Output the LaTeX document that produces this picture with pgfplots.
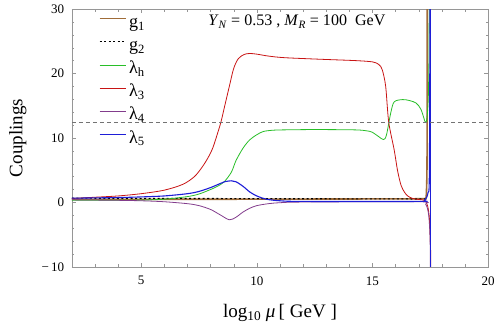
\documentclass[border=0pt]{standalone}
\usepackage{pgfplots}
\pgfplotsset{compat=1.18}
\usepackage{fontspec}
\setmainfont{Liberation Serif}

\definecolor{cgone}{RGB}{160,108,56}
\definecolor{clh}{RGB}{40,190,40}
\definecolor{cltre}{RGB}{200,20,20}
\definecolor{clfour}{RGB}{130,60,140}
\definecolor{clfive}{RGB}{30,30,215}
\definecolor{frame}{RGB}{150,150,150}

\begin{document}
\begin{tikzpicture}
\begin{axis}[
    name=main,
    scale only axis,
    width=415pt, height=257pt,
    xmin=2, xmax=20, ymin=-10, ymax=30,
    xtick={5,10,15,20}, ytick={-10,0,10,20,30},
    yticklabels={−\,10,0,10,20,30},
    minor xtick={2,3,...,20},
    minor ytick={-10,-8,...,30},
    tick align=inside,
    major tick length=4pt, minor tick length=2.5pt,
    every tick/.style={frame},
    axis line style={frame},
    tick label style={font=\fontsize{13}{15}\selectfont},
    /pgf/number format/assume math mode=true,
    yticklabel style={xshift=-4pt},
    xticklabel style={yshift=-6pt},
    xlabel={log\textsubscript{10} \textit{μ}\,[ GeV ]},
    ylabel={Couplings},
    xlabel style={font=\fontsize{19}{21}\selectfont, at={(axis description cs:0.5,-0.195)}, anchor=base, inner sep=10pt},
    ylabel style={font=\fontsize{19}{21}\selectfont, at={(axis description cs:-0.13,0.5)}, anchor=center, inner sep=9pt},
    legend style={draw=none, fill=none, at={(axis description cs:0.058,0.985)}, anchor=north west,
        font=\fontsize{18}{20}\selectfont, row sep=6.5pt,
        nodes={text height=12.5pt, text depth=4pt, inner ysep=0pt, inner xsep=3pt}},
    legend cell align=left,
    legend image code/.code={\draw[#1, line width=0.9pt] (0pt,4.5pt) -- (26pt,4.5pt);},
    clip=true,
]
% g1
\addplot[cgone, line width=1.6pt, smooth] coordinates {
(2,0.46) (6,0.48) (10,0.5) (14,0.53) (17,0.56) (17.28,0.62) (17.33,1.5) (17.36,8) (17.37,36)};
\addlegendentry{g\textsubscript{1}}
% g2
\addplot[black, line width=1.1pt, dash pattern=on 2pt off 2.5pt] coordinates {
(2,0.66) (6,0.62) (10,0.58) (14,0.55) (17.3,0.53)};
\addlegendentry{g\textsubscript{2}}
% lambda_h
\addplot[clh, line width=0.8pt, smooth] coordinates {
(2,0.32) (4,0.33) (5,0.36) (6,0.5) (7,0.9) (7.5,1.3) (8.0,2.0) (8.3,2.5) (8.59,3.2)
(8.9,4.7) (9.1,6.5) (9.4,8.4) (9.69,9.7) (10.0,10.5) (10.28,11.0) (10.7,11.2) (11.16,11.25)
(12.5,11.3) (14.25,11.25) (14.75,11.1) (14.98,10.9) (15.27,10.2) (15.47,9.75) (15.6,10.4)
(15.79,13.9) (15.94,15.6) (16.3,15.95) (16.6,15.8) (16.89,15.4) (17.1,14.4) (17.29,12.4)
(17.36,13.3) (17.41,16) (17.44,22) (17.46,36)};
\addlegendentry{λ\textsubscript{h}}
% lambda_3
\addplot[cltre, line width=0.8pt, smooth] coordinates {
(2,0.6) (3,0.8) (4,1.0) (5,1.35) (6,1.9) (6.8,2.8) (7.3,4.0) (7.64,5.5) (7.9,7.0)
(8.1,8.5) (8.3,10.7) (8.45,12.5) (8.6,14.8) (8.81,18) (9.0,20.8) (9.2,22.3) (9.45,22.95)
(9.69,23.1) (10.0,23.0) (10.5,22.7) (11.2,22.45) (12.8,22.2) (14.25,22.0) (15.0,21.8)
(15.27,21.4) (15.42,20.6) (15.57,18) (15.7,12.5) (15.94,8.1) (16.08,5) (16.23,2.7)
(16.38,1.6) (16.52,1.0) (16.74,0.6) (17.0,0.45) (17.25,0.3) (17.38,-0.5) (17.46,-2.5)
(17.51,-7) (17.53,-14)};
\addlegendentry{λ\textsubscript{3}}
% lambda_4
\addplot[clfour, line width=0.8pt, smooth] coordinates {
(2,0.4) (4,0.32) (5,0.25) (6,0.1) (7,-0.2) (7.5,-0.5) (8.0,-1.1) (8.4,-1.9) (8.81,-2.7)
(9.1,-2.3) (9.4,-1.5) (9.7,-0.9) (10.0,-0.5) (10.5,-0.2) (11,-0.05) (12,0.05) (17,0.1)
(17.3,-0.3) (17.43,-2) (17.49,-6) (17.51,-14)};
\addlegendentry{λ\textsubscript{4}}
% lambda_5
\addplot[clfive, line width=1.1pt, smooth] coordinates {
(2,0.65) (4,0.75) (5,0.85) (6,1.0) (7,1.35) (7.5,1.7) (8.0,2.3) (8.4,2.9) (8.6,3.2)
(8.89,3.35) (9.1,3.2) (9.4,2.5) (9.7,1.6) (10.0,1.0) (10.4,0.5) (11,0.25) (12,0.15)
(17.0,0.15) (17.25,0.3) (17.4,1.5) (17.46,5) (17.49,36)};
\addlegendentry{λ\textsubscript{5}}
\addplot[clfive, line width=1.1pt, forget plot] coordinates {(17.5,36) (17.5,-14)};
% 4 pi line
\addplot[black!55, line width=0.6pt, dash pattern=on 4pt off 3pt, forget plot] coordinates {(2,12.5) (20,12.5)};
\node[anchor=west, font=\fontsize{16}{18}\selectfont] at (axis cs:7.75,28)
  {\textit{Y}\textsubscript{\textit{N}} = 0.53 , \textit{M}\textsubscript{\textit{R}} = 100\ \ GeV};
\end{axis}
\path (main.north) ++(0,9pt);
\end{tikzpicture}
\end{document}
